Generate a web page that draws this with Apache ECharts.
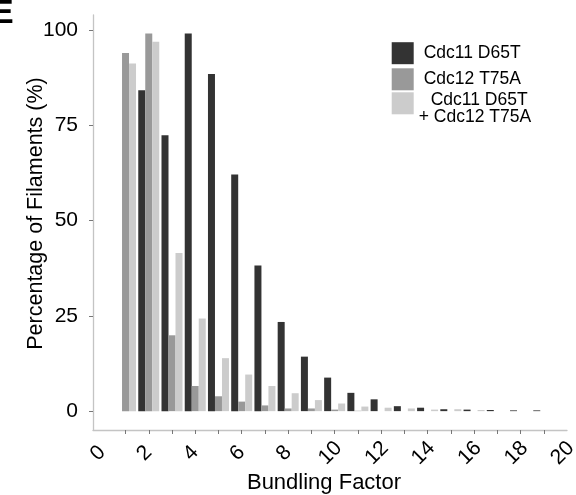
<!DOCTYPE html>
<html>
<head>
<meta charset="utf-8">
<script src="https://cdn.jsdelivr.net/npm/echarts@6/dist/echarts.min.js"></script>
<style>html,body{margin:0;padding:0;background:#fff}#c{width:576px;height:495px}</style>
</head>
<body>
<div id="c"></div>
<script>
// Bundling factor categories (x positions of bar groups)
const categories = [1,2,3,4,5,6,7,8,9,10,11,12,13,14,15,16,17,18,19];
// Percentage of filaments per bundling factor
const cdc11D65T = [0, 84.2, 72.4, 99.1, 88.5, 62.1, 38.2, 23.4, 14.3, 8.8, 4.8, 3.1, 1.3, 0.9, 0.5, 0.4, 0.3, 0.2, 0.2];
const cdc12T75A = [94.0, 99.1, 19.9, 6.6, 3.9, 2.5, 1.5, 0.7, 0.7, 0.4, 0.1, 0, 0, 0, 0, 0, 0, 0, 0];
const doubleMut = [91.2, 96.9, 41.5, 24.3, 13.9, 9.6, 6.6, 4.7, 2.9, 2.0, 1.2, 0.9, 0.7, 0.4, 0.5, 0.3, 0, 0, 0];
// Tick labels
const xTickLabels = [0,2,4,6,8,10,12,14,16,18,20];
const xTickMarks = categories;
const yTickLabels = [0,25,50,75,100];
const seriesNames = ['Cdc11 D65T', 'Cdc12 T75A', 'Cdc11 D65T + Cdc12 T75A'];

const FONT = '"Liberation Sans", Arial, sans-serif';
const chart = echarts.init(document.getElementById('c'));
function pairs(vals){ return categories.map((c,i)=>[c, vals[i]]); }
const barCommon = { type:'bar', barWidth:7, barGap:'0%', silent:true };
const LFS = 17.5;
const legendCommon = {
  orient:'vertical', left:391.7, padding:0, itemWidth:22, itemHeight:22, itemGap:2,
  icon:'rect', selectedMode:false,
  textStyle:{ fontFamily:FONT, fontSize:LFS, color:'#000' }
};
chart.setOption({
  animation:false,
  grid:{ left:93, right:9, top:15, bottom:65, containLabel:false, outerBoundsMode:'none' },
  xAxis:{
    type:'value', min:-0.4, max:20,
    name:'Bundling Factor', nameLocation:'middle', nameGap:42, nameMoveOverlap:false,
    nameTextStyle:{ fontFamily:FONT, fontSize:22, color:'#000', padding:[0,12,0,0] },
    axisLine:{ show:true, onZero:false, lineStyle:{ color:'#c4c4c4', width:1.3 } },
    axisTick:{ show:true, customValues:xTickMarks, length:4, lineStyle:{ color:'#777' } },
    axisLabel:{ customValues:xTickLabels, rotate:45, align:'center', verticalAlign:'middle',
      margin:19, padding:[0,12,0,0], fontFamily:FONT, fontSize:21, color:'#000' },
    splitLine:{ show:false }
  },
  yAxis:{
    type:'value', min:-4.95, max:103.95,
    name:'Percentage of Filaments (%)', nameLocation:'middle', nameGap:46, nameRotate:90, nameMoveOverlap:false,
    nameTextStyle:{ fontFamily:FONT, fontSize:21.5, color:'#000', padding:[0,0,0,18] },
    axisLine:{ show:true, onZero:false, lineStyle:{ color:'#c4c4c4', width:1.3 } },
    axisTick:{ show:true, customValues:yTickLabels, length:4, lineStyle:{ color:'#777' } },
    axisLabel:{ customValues:yTickLabels, margin:15, fontFamily:FONT, fontSize:21, color:'#000' },
    splitLine:{ show:false }
  },
  legend:[
    Object.assign({}, legendCommon, { top:42.2, data:[seriesNames[0]],
      textStyle:Object.assign({}, legendCommon.textStyle, { padding:[0,0,10,5] }) }),
    Object.assign({}, legendCommon, { top:68.3, data:[seriesNames[1]],
      textStyle:Object.assign({}, legendCommon.textStyle, { padding:[0,0,4,5] }) }),
    Object.assign({}, legendCommon, { top:80.5, data:[seriesNames[2]],
      formatter:function(){ return '{a|Cdc11 D65T}\n{b|+ Cdc12 T75A}'; },
      textStyle:Object.assign({}, legendCommon.textStyle, { padding:[11,0,0,0], lineHeight:17.3,
        rich:{ a:{ fontFamily:FONT, fontSize:LFS, color:'#000', lineHeight:17.3, padding:[0,0,0,12] },
               b:{ fontFamily:FONT, fontSize:LFS, color:'#000', lineHeight:17.3 } } }) })
  ],
  graphic:[
    { type:'text', left:-9, top:-3, style:{ text:'E', font:'bold 34px ' + FONT, fill:'#000' } }
  ],
  series:[
    Object.assign({}, barCommon, { name:seriesNames[0], data:pairs(cdc11D65T), itemStyle:{ color:'#333333' } }),
    Object.assign({}, barCommon, { name:seriesNames[1], data:pairs(cdc12T75A), itemStyle:{ color:'#999999' } }),
    Object.assign({}, barCommon, { name:seriesNames[2], data:pairs(doubleMut), itemStyle:{ color:'#cccccc' } })
  ]
});
</script>
</body>
</html>
